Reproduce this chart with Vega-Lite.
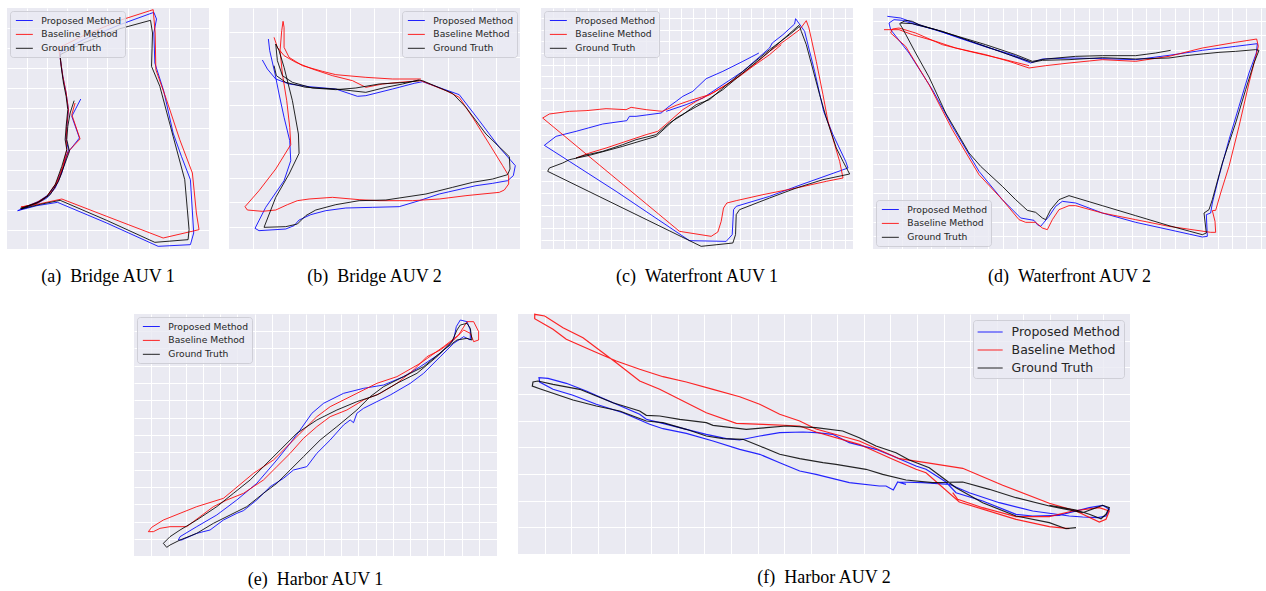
{
"$schema": "https://vega.github.io/schema/vega-lite/v6.json",
"padding": {"left": 7, "top": 7, "right": 0, "bottom": 0},
"config": {
  "view": {"stroke": null, "fill": "#eaeaf2"},
  "axis": {"labels": false, "ticks": false, "domain": false, "grid": true, "gridColor": "#ffffff", "gridWidth": 1, "gridOpacity": 1, "minExtent": 0, "maxExtent": 0},
  "title": {"orient": "bottom", "font": "Liberation Serif", "fontSize": 18, "fontWeight": "normal", "color": "#000000", "offset": 17, "anchor": "middle", "baseline": "top"},
  "legend": {"symbolType": "M-1.5,0H1.5", "symbolFillColor": "transparent", "labelFont": "DejaVu Sans", "labelColor": "#262626", "fillColor": "rgba(234,234,242,0.8)", "strokeColor": "#cfcfd7", "cornerRadius": 3, "symbolStrokeWidth": 1.3, "symbolOpacity": 0.85, "labelFontSize": 9.2, "symbolSize": 128, "symbolOffset": 4.85, "labelOffset": 10.5, "padding": 3, "rowPadding": 1.9, "offset": 3, "title": null},
  "line": {"strokeWidth": 1, "opacity": 0.85, "clip": true}
},
"datasets": {
"a": [
{"s":"Proposed Method","i":1,"x":242,"y":298},{"s":"Proposed Method","i":2,"x":228,"y":325},{"s":"Proposed Method","i":3,"x":215,"y":350},{"s":"Proposed Method","i":4,"x":238,"y":415},{"s":"Proposed Method","i":5,"x":210,"y":450},{"s":"Proposed Method","i":6,"x":200,"y":465},{"s":"Proposed Method","i":7,"x":185,"y":520},{"s":"Proposed Method","i":8,"x":165,"y":565},{"s":"Proposed Method","i":9,"x":140,"y":595},{"s":"Proposed Method","i":10,"x":110,"y":612},{"s":"Proposed Method","i":11,"x":52,"y":633},{"s":"Proposed Method","i":12,"x":110,"y":618},{"s":"Proposed Method","i":13,"x":172,"y":608},{"s":"Proposed Method","i":14,"x":320,"y":670},{"s":"Proposed Method","i":15,"x":475,"y":740},{"s":"Proposed Method","i":16,"x":572,"y":735},{"s":"Proposed Method","i":17,"x":582,"y":700},{"s":"Proposed Method","i":18,"x":572,"y":540},{"s":"Proposed Method","i":19,"x":545,"y":470},{"s":"Proposed Method","i":20,"x":520,"y":400},{"s":"Proposed Method","i":21,"x":492,"y":275},{"s":"Proposed Method","i":22,"x":465,"y":190},{"s":"Proposed Method","i":23,"x":462,"y":100},{"s":"Proposed Method","i":24,"x":470,"y":58},{"s":"Proposed Method","i":25,"x":462,"y":38},{"s":"Proposed Method","i":26,"x":360,"y":75},{"s":"Proposed Method","i":27,"x":250,"y":120},{"s":"Proposed Method","i":28,"x":180,"y":158},{"s":"Proposed Method","i":29,"x":180,"y":175},{"s":"Proposed Method","i":30,"x":188,"y":230},{"s":"Proposed Method","i":31,"x":198,"y":280},{"s":"Proposed Method","i":32,"x":205,"y":330},{"s":"Proposed Method","i":33,"x":200,"y":380},{"s":"Proposed Method","i":34,"x":198,"y":420},{"s":"Proposed Method","i":35,"x":205,"y":450},{"s":"Proposed Method","i":36,"x":190,"y":500},{"s":"Proposed Method","i":37,"x":170,"y":550},{"s":"Proposed Method","i":38,"x":145,"y":585},{"s":"Proposed Method","i":39,"x":115,"y":605},{"s":"Proposed Method","i":40,"x":60,"y":628},
{"s":"Baseline Method","i":1,"x":225,"y":310},{"s":"Baseline Method","i":2,"x":215,"y":345},{"s":"Baseline Method","i":3,"x":240,"y":418},{"s":"Baseline Method","i":4,"x":205,"y":455},{"s":"Baseline Method","i":5,"x":195,"y":480},{"s":"Baseline Method","i":6,"x":180,"y":530},{"s":"Baseline Method","i":7,"x":160,"y":570},{"s":"Baseline Method","i":8,"x":130,"y":600},{"s":"Baseline Method","i":9,"x":100,"y":615},{"s":"Baseline Method","i":10,"x":62,"y":622},{"s":"Baseline Method","i":11,"x":120,"y":612},{"s":"Baseline Method","i":12,"x":185,"y":598},{"s":"Baseline Method","i":13,"x":320,"y":650},{"s":"Baseline Method","i":14,"x":490,"y":715},{"s":"Baseline Method","i":15,"x":598,"y":690},{"s":"Baseline Method","i":16,"x":590,"y":640},{"s":"Baseline Method","i":17,"x":578,"y":520},{"s":"Baseline Method","i":18,"x":540,"y":420},{"s":"Baseline Method","i":19,"x":500,"y":300},{"s":"Baseline Method","i":20,"x":468,"y":210},{"s":"Baseline Method","i":21,"x":466,"y":100},{"s":"Baseline Method","i":22,"x":460,"y":30},{"s":"Baseline Method","i":23,"x":360,"y":62},{"s":"Baseline Method","i":24,"x":250,"y":108},{"s":"Baseline Method","i":25,"x":175,"y":145},{"s":"Baseline Method","i":26,"x":180,"y":175},{"s":"Baseline Method","i":27,"x":188,"y":230},{"s":"Baseline Method","i":28,"x":198,"y":280},{"s":"Baseline Method","i":29,"x":205,"y":330},{"s":"Baseline Method","i":30,"x":200,"y":380},{"s":"Baseline Method","i":31,"x":198,"y":420},{"s":"Baseline Method","i":32,"x":200,"y":450},{"s":"Baseline Method","i":33,"x":188,"y":500},{"s":"Baseline Method","i":34,"x":168,"y":550},{"s":"Baseline Method","i":35,"x":140,"y":590},{"s":"Baseline Method","i":36,"x":110,"y":608},{"s":"Baseline Method","i":37,"x":65,"y":625},
{"s":"Ground Truth","i":1,"x":222,"y":303},{"s":"Ground Truth","i":2,"x":210,"y":340},{"s":"Ground Truth","i":3,"x":203,"y":380},{"s":"Ground Truth","i":4,"x":200,"y":420},{"s":"Ground Truth","i":5,"x":208,"y":455},{"s":"Ground Truth","i":6,"x":195,"y":490},{"s":"Ground Truth","i":7,"x":175,"y":545},{"s":"Ground Truth","i":8,"x":150,"y":585},{"s":"Ground Truth","i":9,"x":120,"y":605},{"s":"Ground Truth","i":10,"x":62,"y":628},{"s":"Ground Truth","i":11,"x":120,"y":614},{"s":"Ground Truth","i":12,"x":180,"y":602},{"s":"Ground Truth","i":13,"x":320,"y":662},{"s":"Ground Truth","i":14,"x":465,"y":728},{"s":"Ground Truth","i":15,"x":565,"y":720},{"s":"Ground Truth","i":16,"x":568,"y":690},{"s":"Ground Truth","i":17,"x":555,"y":540},{"s":"Ground Truth","i":18,"x":520,"y":410},{"s":"Ground Truth","i":19,"x":480,"y":260},{"s":"Ground Truth","i":20,"x":455,"y":200},{"s":"Ground Truth","i":21,"x":458,"y":100},{"s":"Ground Truth","i":22,"x":452,"y":62},{"s":"Ground Truth","i":23,"x":360,"y":87},{"s":"Ground Truth","i":24,"x":250,"y":130},{"s":"Ground Truth","i":25,"x":180,"y":165},{"s":"Ground Truth","i":26,"x":183,"y":200},{"s":"Ground Truth","i":27,"x":190,"y":250},{"s":"Ground Truth","i":28,"x":198,"y":290},{"s":"Ground Truth","i":29,"x":203,"y":330},{"s":"Ground Truth","i":30,"x":198,"y":380},{"s":"Ground Truth","i":31,"x":195,"y":420},{"s":"Ground Truth","i":32,"x":200,"y":450},{"s":"Ground Truth","i":33,"x":185,"y":500},{"s":"Ground Truth","i":34,"x":165,"y":555},{"s":"Ground Truth","i":35,"x":140,"y":590},{"s":"Ground Truth","i":36,"x":110,"y":610},{"s":"Ground Truth","i":37,"x":60,"y":626}
],
"b": [
{"s":"Proposed Method","i":1,"x":110,"y":178},{"s":"Proposed Method","i":2,"x":125,"y":205},{"s":"Proposed Method","i":3,"x":150,"y":235},{"s":"Proposed Method","i":4,"x":190,"y":250},{"s":"Proposed Method","i":5,"x":250,"y":258},{"s":"Proposed Method","i":6,"x":330,"y":265},{"s":"Proposed Method","i":7,"x":395,"y":287},{"s":"Proposed Method","i":8,"x":420,"y":285},{"s":"Proposed Method","i":9,"x":500,"y":265},{"s":"Proposed Method","i":10,"x":565,"y":248},{"s":"Proposed Method","i":11,"x":590,"y":243},{"s":"Proposed Method","i":12,"x":700,"y":282},{"s":"Proposed Method","i":13,"x":760,"y":360},{"s":"Proposed Method","i":14,"x":820,"y":440},{"s":"Proposed Method","i":15,"x":855,"y":480},{"s":"Proposed Method","i":16,"x":868,"y":495},{"s":"Proposed Method","i":17,"x":862,"y":525},{"s":"Proposed Method","i":18,"x":845,"y":540},{"s":"Proposed Method","i":19,"x":800,"y":548},{"s":"Proposed Method","i":20,"x":750,"y":555},{"s":"Proposed Method","i":21,"x":640,"y":580},{"s":"Proposed Method","i":22,"x":580,"y":600},{"s":"Proposed Method","i":23,"x":520,"y":618},{"s":"Proposed Method","i":24,"x":440,"y":620},{"s":"Proposed Method","i":25,"x":360,"y":622},{"s":"Proposed Method","i":26,"x":300,"y":630},{"s":"Proposed Method","i":27,"x":255,"y":642},{"s":"Proposed Method","i":28,"x":220,"y":658},{"s":"Proposed Method","i":29,"x":205,"y":675},{"s":"Proposed Method","i":30,"x":180,"y":685},{"s":"Proposed Method","i":31,"x":100,"y":690},{"s":"Proposed Method","i":32,"x":88,"y":683},{"s":"Proposed Method","i":33,"x":120,"y":620},{"s":"Proposed Method","i":34,"x":175,"y":540},{"s":"Proposed Method","i":35,"x":195,"y":480},{"s":"Proposed Method","i":36,"x":192,"y":420},{"s":"Proposed Method","i":37,"x":175,"y":350},{"s":"Proposed Method","i":38,"x":160,"y":280},{"s":"Proposed Method","i":39,"x":148,"y":220},{"s":"Proposed Method","i":40,"x":132,"y":150},{"s":"Proposed Method","i":41,"x":128,"y":115},
{"s":"Baseline Method","i":1,"x":145,"y":110},{"s":"Baseline Method","i":2,"x":155,"y":140},{"s":"Baseline Method","i":3,"x":175,"y":165},{"s":"Baseline Method","i":4,"x":210,"y":185},{"s":"Baseline Method","i":5,"x":260,"y":205},{"s":"Baseline Method","i":6,"x":320,"y":225},{"s":"Baseline Method","i":7,"x":380,"y":240},{"s":"Baseline Method","i":8,"x":420,"y":260},{"s":"Baseline Method","i":9,"x":470,"y":250},{"s":"Baseline Method","i":10,"x":520,"y":245},{"s":"Baseline Method","i":11,"x":585,"y":240},{"s":"Baseline Method","i":12,"x":660,"y":270},{"s":"Baseline Method","i":13,"x":700,"y":290},{"s":"Baseline Method","i":14,"x":740,"y":350},{"s":"Baseline Method","i":15,"x":790,"y":430},{"s":"Baseline Method","i":16,"x":830,"y":495},{"s":"Baseline Method","i":17,"x":848,"y":525},{"s":"Baseline Method","i":18,"x":848,"y":550},{"s":"Baseline Method","i":19,"x":835,"y":568},{"s":"Baseline Method","i":20,"x":820,"y":575},{"s":"Baseline Method","i":21,"x":720,"y":585},{"s":"Baseline Method","i":22,"x":640,"y":595},{"s":"Baseline Method","i":23,"x":560,"y":600},{"s":"Baseline Method","i":24,"x":460,"y":600},{"s":"Baseline Method","i":25,"x":400,"y":597},{"s":"Baseline Method","i":26,"x":320,"y":590},{"s":"Baseline Method","i":27,"x":250,"y":595},{"s":"Baseline Method","i":28,"x":215,"y":600},{"s":"Baseline Method","i":29,"x":185,"y":612},{"s":"Baseline Method","i":30,"x":150,"y":628},{"s":"Baseline Method","i":31,"x":110,"y":632},{"s":"Baseline Method","i":32,"x":65,"y":628},{"s":"Baseline Method","i":33,"x":58,"y":618},{"s":"Baseline Method","i":34,"x":100,"y":570},{"s":"Baseline Method","i":35,"x":150,"y":505},{"s":"Baseline Method","i":36,"x":195,"y":432},{"s":"Baseline Method","i":37,"x":192,"y":380},{"s":"Baseline Method","i":38,"x":183,"y":300},{"s":"Baseline Method","i":39,"x":170,"y":220},{"s":"Baseline Method","i":40,"x":163,"y":150},{"s":"Baseline Method","i":41,"x":168,"y":90},{"s":"Baseline Method","i":42,"x":172,"y":62},{"s":"Baseline Method","i":43,"x":175,"y":80},{"s":"Baseline Method","i":44,"x":175,"y":140},{"s":"Baseline Method","i":45,"x":190,"y":170},{"s":"Baseline Method","i":46,"x":230,"y":195},{"s":"Baseline Method","i":47,"x":290,"y":212},{"s":"Baseline Method","i":48,"x":330,"y":222},{"s":"Baseline Method","i":49,"x":420,"y":230},{"s":"Baseline Method","i":50,"x":500,"y":235},{"s":"Baseline Method","i":51,"x":585,"y":235},
{"s":"Ground Truth","i":1,"x":145,"y":195},{"s":"Ground Truth","i":2,"x":152,"y":225},{"s":"Ground Truth","i":3,"x":180,"y":245},{"s":"Ground Truth","i":4,"x":240,"y":260},{"s":"Ground Truth","i":5,"x":330,"y":265},{"s":"Ground Truth","i":6,"x":420,"y":275},{"s":"Ground Truth","i":7,"x":480,"y":260},{"s":"Ground Truth","i":8,"x":530,"y":250},{"s":"Ground Truth","i":9,"x":578,"y":238},{"s":"Ground Truth","i":10,"x":590,"y":240},{"s":"Ground Truth","i":11,"x":680,"y":278},{"s":"Ground Truth","i":12,"x":720,"y":320},{"s":"Ground Truth","i":13,"x":780,"y":400},{"s":"Ground Truth","i":14,"x":850,"y":468},{"s":"Ground Truth","i":15,"x":852,"y":505},{"s":"Ground Truth","i":16,"x":845,"y":522},{"s":"Ground Truth","i":17,"x":800,"y":535},{"s":"Ground Truth","i":18,"x":740,"y":545},{"s":"Ground Truth","i":19,"x":680,"y":560},{"s":"Ground Truth","i":20,"x":600,"y":580},{"s":"Ground Truth","i":21,"x":480,"y":598},{"s":"Ground Truth","i":22,"x":400,"y":600},{"s":"Ground Truth","i":23,"x":330,"y":612},{"s":"Ground Truth","i":24,"x":270,"y":628},{"s":"Ground Truth","i":25,"x":240,"y":645},{"s":"Ground Truth","i":26,"x":215,"y":670},{"s":"Ground Truth","i":27,"x":180,"y":678},{"s":"Ground Truth","i":28,"x":115,"y":680},{"s":"Ground Truth","i":29,"x":150,"y":590},{"s":"Ground Truth","i":30,"x":190,"y":520},{"s":"Ground Truth","i":31,"x":220,"y":458},{"s":"Ground Truth","i":32,"x":218,"y":400},{"s":"Ground Truth","i":33,"x":200,"y":300},{"s":"Ground Truth","i":34,"x":175,"y":200},{"s":"Ground Truth","i":35,"x":160,"y":150},{"s":"Ground Truth","i":36,"x":150,"y":130},{"s":"Ground Truth","i":37,"x":155,"y":180},{"s":"Ground Truth","i":38,"x":170,"y":225},{"s":"Ground Truth","i":39,"x":200,"y":245},{"s":"Ground Truth","i":40,"x":260,"y":262},{"s":"Ground Truth","i":41,"x":330,"y":267},{"s":"Ground Truth","i":42,"x":390,"y":262},{"s":"Ground Truth","i":43,"x":460,"y":250},{"s":"Ground Truth","i":44,"x":540,"y":245},{"s":"Ground Truth","i":45,"x":580,"y":240}
],
"c": [
{"s":"Proposed Method","i":1,"x":668,"y":155},{"s":"Proposed Method","i":2,"x":620,"y":180},{"s":"Proposed Method","i":3,"x":560,"y":210},{"s":"Proposed Method","i":4,"x":510,"y":232},{"s":"Proposed Method","i":5,"x":470,"y":270},{"s":"Proposed Method","i":6,"x":440,"y":285},{"s":"Proposed Method","i":7,"x":420,"y":300},{"s":"Proposed Method","i":8,"x":395,"y":318},{"s":"Proposed Method","i":9,"x":375,"y":335},{"s":"Proposed Method","i":10,"x":300,"y":345},{"s":"Proposed Method","i":11,"x":280,"y":345},{"s":"Proposed Method","i":12,"x":272,"y":358},{"s":"Proposed Method","i":13,"x":200,"y":368},{"s":"Proposed Method","i":14,"x":120,"y":390},{"s":"Proposed Method","i":15,"x":60,"y":405},{"s":"Proposed Method","i":16,"x":25,"y":432},{"s":"Proposed Method","i":17,"x":100,"y":480},{"s":"Proposed Method","i":18,"x":240,"y":570},{"s":"Proposed Method","i":19,"x":460,"y":718},{"s":"Proposed Method","i":20,"x":570,"y":720},{"s":"Proposed Method","i":21,"x":588,"y":700},{"s":"Proposed Method","i":22,"x":592,"y":625},{"s":"Proposed Method","i":23,"x":600,"y":615},{"s":"Proposed Method","i":24,"x":700,"y":585},{"s":"Proposed Method","i":25,"x":800,"y":548},{"s":"Proposed Method","i":26,"x":935,"y":500},{"s":"Proposed Method","i":27,"x":928,"y":480},{"s":"Proposed Method","i":28,"x":890,"y":400},{"s":"Proposed Method","i":29,"x":862,"y":330},{"s":"Proposed Method","i":30,"x":835,"y":210},{"s":"Proposed Method","i":31,"x":805,"y":90},{"s":"Proposed Method","i":32,"x":778,"y":52},{"s":"Proposed Method","i":33,"x":775,"y":68},{"s":"Proposed Method","i":34,"x":740,"y":100},{"s":"Proposed Method","i":35,"x":708,"y":125},{"s":"Proposed Method","i":36,"x":700,"y":140},{"s":"Proposed Method","i":37,"x":660,"y":175},{"s":"Proposed Method","i":38,"x":620,"y":210},{"s":"Proposed Method","i":39,"x":560,"y":250},{"s":"Proposed Method","i":40,"x":500,"y":290},{"s":"Proposed Method","i":41,"x":450,"y":310},{"s":"Proposed Method","i":42,"x":390,"y":330},
{"s":"Baseline Method","i":1,"x":120,"y":470},{"s":"Baseline Method","i":2,"x":160,"y":455},{"s":"Baseline Method","i":3,"x":210,"y":440},{"s":"Baseline Method","i":4,"x":270,"y":420},{"s":"Baseline Method","i":5,"x":330,"y":400},{"s":"Baseline Method","i":6,"x":365,"y":390},{"s":"Baseline Method","i":7,"x":400,"y":360},{"s":"Baseline Method","i":8,"x":440,"y":325},{"s":"Baseline Method","i":9,"x":480,"y":300},{"s":"Baseline Method","i":10,"x":530,"y":275},{"s":"Baseline Method","i":11,"x":580,"y":245},{"s":"Baseline Method","i":12,"x":620,"y":215},{"s":"Baseline Method","i":13,"x":660,"y":185},{"s":"Baseline Method","i":14,"x":700,"y":150},{"s":"Baseline Method","i":15,"x":750,"y":115},{"s":"Baseline Method","i":16,"x":790,"y":85},{"s":"Baseline Method","i":17,"x":810,"y":58},{"s":"Baseline Method","i":18,"x":818,"y":80},{"s":"Baseline Method","i":19,"x":840,"y":180},{"s":"Baseline Method","i":20,"x":860,"y":280},{"s":"Baseline Method","i":21,"x":875,"y":360},{"s":"Baseline Method","i":22,"x":895,"y":430},{"s":"Baseline Method","i":23,"x":910,"y":480},{"s":"Baseline Method","i":24,"x":920,"y":530},{"s":"Baseline Method","i":25,"x":870,"y":540},{"s":"Baseline Method","i":26,"x":780,"y":560},{"s":"Baseline Method","i":27,"x":680,"y":580},{"s":"Baseline Method","i":28,"x":600,"y":598},{"s":"Baseline Method","i":29,"x":572,"y":605},{"s":"Baseline Method","i":30,"x":562,"y":620},{"s":"Baseline Method","i":31,"x":555,"y":660},{"s":"Baseline Method","i":32,"x":545,"y":692},{"s":"Baseline Method","i":33,"x":525,"y":705},{"s":"Baseline Method","i":34,"x":430,"y":690},{"s":"Baseline Method","i":35,"x":20,"y":350},{"s":"Baseline Method","i":36,"x":40,"y":338},{"s":"Baseline Method","i":37,"x":100,"y":330},{"s":"Baseline Method","i":38,"x":150,"y":328},{"s":"Baseline Method","i":39,"x":210,"y":322},{"s":"Baseline Method","i":40,"x":270,"y":325},{"s":"Baseline Method","i":41,"x":285,"y":318},{"s":"Baseline Method","i":42,"x":330,"y":325},{"s":"Baseline Method","i":43,"x":378,"y":330},{"s":"Baseline Method","i":44,"x":420,"y":312},{"s":"Baseline Method","i":45,"x":460,"y":298},{"s":"Baseline Method","i":46,"x":520,"y":280},{"s":"Baseline Method","i":47,"x":570,"y":250},{"s":"Baseline Method","i":48,"x":610,"y":225},{"s":"Baseline Method","i":49,"x":650,"y":195},{"s":"Baseline Method","i":50,"x":700,"y":160},{"s":"Baseline Method","i":51,"x":735,"y":130},
{"s":"Ground Truth","i":1,"x":120,"y":470},{"s":"Ground Truth","i":2,"x":145,"y":462},{"s":"Ground Truth","i":3,"x":200,"y":450},{"s":"Ground Truth","i":4,"x":260,"y":430},{"s":"Ground Truth","i":5,"x":300,"y":415},{"s":"Ground Truth","i":6,"x":360,"y":400},{"s":"Ground Truth","i":7,"x":400,"y":365},{"s":"Ground Truth","i":8,"x":440,"y":340},{"s":"Ground Truth","i":9,"x":480,"y":310},{"s":"Ground Truth","i":10,"x":520,"y":295},{"s":"Ground Truth","i":11,"x":560,"y":260},{"s":"Ground Truth","i":12,"x":620,"y":210},{"s":"Ground Truth","i":13,"x":700,"y":145},{"s":"Ground Truth","i":14,"x":760,"y":100},{"s":"Ground Truth","i":15,"x":790,"y":75},{"s":"Ground Truth","i":16,"x":795,"y":90},{"s":"Ground Truth","i":17,"x":810,"y":130},{"s":"Ground Truth","i":18,"x":850,"y":280},{"s":"Ground Truth","i":19,"x":870,"y":350},{"s":"Ground Truth","i":20,"x":900,"y":440},{"s":"Ground Truth","i":21,"x":920,"y":480},{"s":"Ground Truth","i":22,"x":940,"y":518},{"s":"Ground Truth","i":23,"x":860,"y":535},{"s":"Ground Truth","i":24,"x":780,"y":560},{"s":"Ground Truth","i":25,"x":700,"y":590},{"s":"Ground Truth","i":26,"x":610,"y":625},{"s":"Ground Truth","i":27,"x":600,"y":640},{"s":"Ground Truth","i":28,"x":598,"y":700},{"s":"Ground Truth","i":29,"x":590,"y":725},{"s":"Ground Truth","i":30,"x":495,"y":735},{"s":"Ground Truth","i":31,"x":35,"y":510},{"s":"Ground Truth","i":32,"x":40,"y":500},{"s":"Ground Truth","i":33,"x":80,"y":485},{"s":"Ground Truth","i":34,"x":100,"y":475},{"s":"Ground Truth","i":35,"x":160,"y":462},{"s":"Ground Truth","i":36,"x":260,"y":435},{"s":"Ground Truth","i":37,"x":360,"y":405},{"s":"Ground Truth","i":38,"x":420,"y":350},{"s":"Ground Truth","i":39,"x":500,"y":305},{"s":"Ground Truth","i":40,"x":560,"y":265},{"s":"Ground Truth","i":41,"x":620,"y":215},{"s":"Ground Truth","i":42,"x":700,"y":150},{"s":"Ground Truth","i":43,"x":790,"y":70}
],
"d": [
{"s":"Proposed Method","i":1,"x":55,"y":50},{"s":"Proposed Method","i":2,"x":95,"y":55},{"s":"Proposed Method","i":3,"x":130,"y":68},{"s":"Proposed Method","i":4,"x":180,"y":85},{"s":"Proposed Method","i":5,"x":260,"y":110},{"s":"Proposed Method","i":6,"x":350,"y":140},{"s":"Proposed Method","i":7,"x":420,"y":165},{"s":"Proposed Method","i":8,"x":485,"y":190},{"s":"Proposed Method","i":9,"x":520,"y":178},{"s":"Proposed Method","i":10,"x":600,"y":175},{"s":"Proposed Method","i":11,"x":700,"y":177},{"s":"Proposed Method","i":12,"x":800,"y":180},{"s":"Proposed Method","i":13,"x":900,"y":167},{"s":"Proposed Method","i":14,"x":1000,"y":152},{"s":"Proposed Method","i":15,"x":1100,"y":140},{"s":"Proposed Method","i":16,"x":1165,"y":132},{"s":"Proposed Method","i":17,"x":1162,"y":160},{"s":"Proposed Method","i":18,"x":1140,"y":220},{"s":"Proposed Method","i":19,"x":1110,"y":320},{"s":"Proposed Method","i":20,"x":1080,"y":420},{"s":"Proposed Method","i":21,"x":1050,"y":530},{"s":"Proposed Method","i":22,"x":1030,"y":610},{"s":"Proposed Method","i":23,"x":1025,"y":640},{"s":"Proposed Method","i":24,"x":1012,"y":645},{"s":"Proposed Method","i":25,"x":1015,"y":710},{"s":"Proposed Method","i":26,"x":1000,"y":712},{"s":"Proposed Method","i":27,"x":900,"y":690},{"s":"Proposed Method","i":28,"x":800,"y":668},{"s":"Proposed Method","i":29,"x":700,"y":640},{"s":"Proposed Method","i":30,"x":620,"y":610},{"s":"Proposed Method","i":31,"x":580,"y":605},{"s":"Proposed Method","i":32,"x":560,"y":620},{"s":"Proposed Method","i":33,"x":540,"y":650},{"s":"Proposed Method","i":34,"x":515,"y":680},{"s":"Proposed Method","i":35,"x":505,"y":675},{"s":"Proposed Method","i":36,"x":495,"y":662},{"s":"Proposed Method","i":37,"x":455,"y":655},{"s":"Proposed Method","i":38,"x":400,"y":600},{"s":"Proposed Method","i":39,"x":330,"y":515},{"s":"Proposed Method","i":40,"x":250,"y":380},{"s":"Proposed Method","i":41,"x":190,"y":270},{"s":"Proposed Method","i":42,"x":120,"y":160},{"s":"Proposed Method","i":43,"x":65,"y":90},{"s":"Proposed Method","i":44,"x":60,"y":70},{"s":"Proposed Method","i":45,"x":75,"y":60},{"s":"Proposed Method","i":46,"x":100,"y":62},{"s":"Proposed Method","i":47,"x":140,"y":75},{"s":"Proposed Method","i":48,"x":200,"y":90},{"s":"Proposed Method","i":49,"x":270,"y":115},{"s":"Proposed Method","i":50,"x":360,"y":145},{"s":"Proposed Method","i":51,"x":430,"y":165},{"s":"Proposed Method","i":52,"x":480,"y":185},
{"s":"Baseline Method","i":1,"x":45,"y":90},{"s":"Baseline Method","i":2,"x":90,"y":90},{"s":"Baseline Method","i":3,"x":130,"y":105},{"s":"Baseline Method","i":4,"x":200,"y":125},{"s":"Baseline Method","i":5,"x":260,"y":145},{"s":"Baseline Method","i":6,"x":350,"y":165},{"s":"Baseline Method","i":7,"x":420,"y":185},{"s":"Baseline Method","i":8,"x":480,"y":205},{"s":"Baseline Method","i":9,"x":530,"y":198},{"s":"Baseline Method","i":10,"x":600,"y":190},{"s":"Baseline Method","i":11,"x":700,"y":180},{"s":"Baseline Method","i":12,"x":800,"y":185},{"s":"Baseline Method","i":13,"x":900,"y":170},{"s":"Baseline Method","i":14,"x":1000,"y":145},{"s":"Baseline Method","i":15,"x":1100,"y":128},{"s":"Baseline Method","i":16,"x":1163,"y":118},{"s":"Baseline Method","i":17,"x":1168,"y":140},{"s":"Baseline Method","i":18,"x":1140,"y":250},{"s":"Baseline Method","i":19,"x":1110,"y":380},{"s":"Baseline Method","i":20,"x":1080,"y":500},{"s":"Baseline Method","i":21,"x":1055,"y":580},{"s":"Baseline Method","i":22,"x":1040,"y":632},{"s":"Baseline Method","i":23,"x":1030,"y":633},{"s":"Baseline Method","i":24,"x":1038,"y":665},{"s":"Baseline Method","i":25,"x":1040,"y":698},{"s":"Baseline Method","i":26,"x":1025,"y":698},{"s":"Baseline Method","i":27,"x":900,"y":680},{"s":"Baseline Method","i":28,"x":800,"y":660},{"s":"Baseline Method","i":29,"x":700,"y":640},{"s":"Baseline Method","i":30,"x":620,"y":618},{"s":"Baseline Method","i":31,"x":600,"y":618},{"s":"Baseline Method","i":32,"x":570,"y":630},{"s":"Baseline Method","i":33,"x":550,"y":660},{"s":"Baseline Method","i":34,"x":535,"y":690},{"s":"Baseline Method","i":35,"x":520,"y":685},{"s":"Baseline Method","i":36,"x":500,"y":668},{"s":"Baseline Method","i":37,"x":470,"y":668},{"s":"Baseline Method","i":38,"x":450,"y":660},{"s":"Baseline Method","i":39,"x":400,"y":600},{"s":"Baseline Method","i":40,"x":330,"y":525},{"s":"Baseline Method","i":41,"x":250,"y":390},{"s":"Baseline Method","i":42,"x":180,"y":255},{"s":"Baseline Method","i":43,"x":110,"y":140},{"s":"Baseline Method","i":44,"x":65,"y":100},{"s":"Baseline Method","i":45,"x":70,"y":88},{"s":"Baseline Method","i":46,"x":90,"y":85},{"s":"Baseline Method","i":47,"x":140,"y":100},{"s":"Baseline Method","i":48,"x":220,"y":135},{"s":"Baseline Method","i":49,"x":300,"y":155},{"s":"Baseline Method","i":50,"x":400,"y":178},{"s":"Baseline Method","i":51,"x":480,"y":198},
{"s":"Ground Truth","i":1,"x":905,"y":152},{"s":"Ground Truth","i":2,"x":860,"y":160},{"s":"Ground Truth","i":3,"x":800,"y":168},{"s":"Ground Truth","i":4,"x":700,"y":168},{"s":"Ground Truth","i":5,"x":620,"y":170},{"s":"Ground Truth","i":6,"x":530,"y":178},{"s":"Ground Truth","i":7,"x":490,"y":185},{"s":"Ground Truth","i":8,"x":440,"y":165},{"s":"Ground Truth","i":9,"x":350,"y":135},{"s":"Ground Truth","i":10,"x":250,"y":105},{"s":"Ground Truth","i":11,"x":150,"y":75},{"s":"Ground Truth","i":12,"x":130,"y":65},{"s":"Ground Truth","i":13,"x":110,"y":62},{"s":"Ground Truth","i":14,"x":92,"y":72},{"s":"Ground Truth","i":15,"x":100,"y":85},{"s":"Ground Truth","i":16,"x":140,"y":160},{"s":"Ground Truth","i":17,"x":180,"y":232},{"s":"Ground Truth","i":18,"x":230,"y":340},{"s":"Ground Truth","i":19,"x":300,"y":460},{"s":"Ground Truth","i":20,"x":335,"y":500},{"s":"Ground Truth","i":21,"x":400,"y":560},{"s":"Ground Truth","i":22,"x":440,"y":600},{"s":"Ground Truth","i":23,"x":475,"y":632},{"s":"Ground Truth","i":24,"x":500,"y":638},{"s":"Ground Truth","i":25,"x":520,"y":655},{"s":"Ground Truth","i":26,"x":530,"y":660},{"s":"Ground Truth","i":27,"x":545,"y":630},{"s":"Ground Truth","i":28,"x":570,"y":600},{"s":"Ground Truth","i":29,"x":600,"y":588},{"s":"Ground Truth","i":30,"x":700,"y":618},{"s":"Ground Truth","i":31,"x":800,"y":648},{"s":"Ground Truth","i":32,"x":900,"y":678},{"s":"Ground Truth","i":33,"x":1000,"y":705},{"s":"Ground Truth","i":34,"x":1012,"y":700},{"s":"Ground Truth","i":35,"x":1005,"y":640},{"s":"Ground Truth","i":36,"x":1020,"y":630},{"s":"Ground Truth","i":37,"x":1030,"y":600},{"s":"Ground Truth","i":38,"x":1060,"y":490},{"s":"Ground Truth","i":39,"x":1100,"y":370},{"s":"Ground Truth","i":40,"x":1130,"y":270},{"s":"Ground Truth","i":41,"x":1155,"y":190},{"s":"Ground Truth","i":42,"x":1170,"y":152},{"s":"Ground Truth","i":43,"x":1160,"y":150},{"s":"Ground Truth","i":44,"x":1100,"y":155},{"s":"Ground Truth","i":45,"x":1050,"y":158},{"s":"Ground Truth","i":46,"x":950,"y":168},{"s":"Ground Truth","i":47,"x":900,"y":175},{"s":"Ground Truth","i":48,"x":800,"y":178},{"s":"Ground Truth","i":49,"x":700,"y":174},{"s":"Ground Truth","i":50,"x":600,"y":180},{"s":"Ground Truth","i":51,"x":520,"y":182},{"s":"Ground Truth","i":52,"x":490,"y":188},{"s":"Ground Truth","i":53,"x":420,"y":165},{"s":"Ground Truth","i":54,"x":320,"y":130},{"s":"Ground Truth","i":55,"x":220,"y":95},{"s":"Ground Truth","i":56,"x":130,"y":72},{"s":"Ground Truth","i":57,"x":95,"y":70}
],
"e": [
{"s":"Proposed Method","i":1,"x":145,"y":700},{"s":"Proposed Method","i":2,"x":150,"y":690},{"s":"Proposed Method","i":3,"x":200,"y":660},{"s":"Proposed Method","i":4,"x":260,"y":625},{"s":"Proposed Method","i":5,"x":320,"y":580},{"s":"Proposed Method","i":6,"x":380,"y":530},{"s":"Proposed Method","i":7,"x":440,"y":460},{"s":"Proposed Method","i":8,"x":480,"y":410},{"s":"Proposed Method","i":9,"x":510,"y":370},{"s":"Proposed Method","i":10,"x":545,"y":320},{"s":"Proposed Method","i":11,"x":580,"y":290},{"s":"Proposed Method","i":12,"x":640,"y":260},{"s":"Proposed Method","i":13,"x":700,"y":245},{"s":"Proposed Method","i":14,"x":760,"y":235},{"s":"Proposed Method","i":15,"x":820,"y":210},{"s":"Proposed Method","i":16,"x":870,"y":180},{"s":"Proposed Method","i":17,"x":930,"y":140},{"s":"Proposed Method","i":18,"x":970,"y":100},{"s":"Proposed Method","i":19,"x":978,"y":60},{"s":"Proposed Method","i":20,"x":990,"y":40},{"s":"Proposed Method","i":21,"x":1010,"y":45},{"s":"Proposed Method","i":22,"x":1020,"y":70},{"s":"Proposed Method","i":23,"x":1020,"y":100},{"s":"Proposed Method","i":24,"x":1000,"y":90},{"s":"Proposed Method","i":25,"x":970,"y":110},{"s":"Proposed Method","i":26,"x":930,"y":150},{"s":"Proposed Method","i":27,"x":880,"y":200},{"s":"Proposed Method","i":28,"x":840,"y":230},{"s":"Proposed Method","i":29,"x":780,"y":265},{"s":"Proposed Method","i":30,"x":740,"y":285},{"s":"Proposed Method","i":31,"x":700,"y":305},{"s":"Proposed Method","i":32,"x":680,"y":320},{"s":"Proposed Method","i":33,"x":670,"y":348},{"s":"Proposed Method","i":34,"x":660,"y":340},{"s":"Proposed Method","i":35,"x":640,"y":355},{"s":"Proposed Method","i":36,"x":600,"y":400},{"s":"Proposed Method","i":37,"x":560,"y":440},{"s":"Proposed Method","i":38,"x":530,"y":480},{"s":"Proposed Method","i":39,"x":510,"y":485},{"s":"Proposed Method","i":40,"x":490,"y":490},{"s":"Proposed Method","i":41,"x":460,"y":515},{"s":"Proposed Method","i":42,"x":420,"y":540},{"s":"Proposed Method","i":43,"x":380,"y":580},{"s":"Proposed Method","i":44,"x":340,"y":612},{"s":"Proposed Method","i":45,"x":320,"y":620},{"s":"Proposed Method","i":46,"x":280,"y":640},{"s":"Proposed Method","i":47,"x":240,"y":670},{"s":"Proposed Method","i":48,"x":200,"y":680},{"s":"Proposed Method","i":49,"x":155,"y":700},{"s":"Proposed Method","i":50,"x":145,"y":700},
{"s":"Baseline Method","i":1,"x":55,"y":675},{"s":"Baseline Method","i":2,"x":65,"y":662},{"s":"Baseline Method","i":3,"x":100,"y":640},{"s":"Baseline Method","i":4,"x":150,"y":620},{"s":"Baseline Method","i":5,"x":200,"y":600},{"s":"Baseline Method","i":6,"x":280,"y":575},{"s":"Baseline Method","i":7,"x":310,"y":550},{"s":"Baseline Method","i":8,"x":370,"y":500},{"s":"Baseline Method","i":9,"x":430,"y":460},{"s":"Baseline Method","i":10,"x":500,"y":390},{"s":"Baseline Method","i":11,"x":560,"y":330},{"s":"Baseline Method","i":12,"x":600,"y":300},{"s":"Baseline Method","i":13,"x":680,"y":260},{"s":"Baseline Method","i":14,"x":740,"y":230},{"s":"Baseline Method","i":15,"x":800,"y":210},{"s":"Baseline Method","i":16,"x":870,"y":170},{"s":"Baseline Method","i":17,"x":940,"y":120},{"s":"Baseline Method","i":18,"x":985,"y":85},{"s":"Baseline Method","i":19,"x":1010,"y":45},{"s":"Baseline Method","i":20,"x":1030,"y":45},{"s":"Baseline Method","i":21,"x":1045,"y":75},{"s":"Baseline Method","i":22,"x":1045,"y":100},{"s":"Baseline Method","i":23,"x":1030,"y":105},{"s":"Baseline Method","i":24,"x":1020,"y":80},{"s":"Baseline Method","i":25,"x":1000,"y":70},{"s":"Baseline Method","i":26,"x":970,"y":100},{"s":"Baseline Method","i":27,"x":930,"y":130},{"s":"Baseline Method","i":28,"x":890,"y":150},{"s":"Baseline Method","i":29,"x":850,"y":190},{"s":"Baseline Method","i":30,"x":800,"y":230},{"s":"Baseline Method","i":31,"x":750,"y":260},{"s":"Baseline Method","i":32,"x":700,"y":280},{"s":"Baseline Method","i":33,"x":650,"y":310},{"s":"Baseline Method","i":34,"x":600,"y":330},{"s":"Baseline Method","i":35,"x":560,"y":360},{"s":"Baseline Method","i":36,"x":520,"y":395},{"s":"Baseline Method","i":37,"x":480,"y":440},{"s":"Baseline Method","i":38,"x":440,"y":480},{"s":"Baseline Method","i":39,"x":400,"y":520},{"s":"Baseline Method","i":40,"x":340,"y":560},{"s":"Baseline Method","i":41,"x":290,"y":580},{"s":"Baseline Method","i":42,"x":250,"y":600},{"s":"Baseline Method","i":43,"x":210,"y":630},{"s":"Baseline Method","i":44,"x":170,"y":660},{"s":"Baseline Method","i":45,"x":120,"y":660},{"s":"Baseline Method","i":46,"x":90,"y":665},{"s":"Baseline Method","i":47,"x":70,"y":675},{"s":"Baseline Method","i":48,"x":55,"y":675},
{"s":"Ground Truth","i":1,"x":110,"y":722},{"s":"Ground Truth","i":2,"x":100,"y":710},{"s":"Ground Truth","i":3,"x":120,"y":690},{"s":"Ground Truth","i":4,"x":150,"y":670},{"s":"Ground Truth","i":5,"x":200,"y":640},{"s":"Ground Truth","i":6,"x":260,"y":600},{"s":"Ground Truth","i":7,"x":310,"y":560},{"s":"Ground Truth","i":8,"x":360,"y":520},{"s":"Ground Truth","i":9,"x":400,"y":480},{"s":"Ground Truth","i":10,"x":450,"y":430},{"s":"Ground Truth","i":11,"x":500,"y":380},{"s":"Ground Truth","i":12,"x":560,"y":340},{"s":"Ground Truth","i":13,"x":620,"y":310},{"s":"Ground Truth","i":14,"x":680,"y":285},{"s":"Ground Truth","i":15,"x":740,"y":265},{"s":"Ground Truth","i":16,"x":800,"y":230},{"s":"Ground Truth","i":17,"x":860,"y":200},{"s":"Ground Truth","i":18,"x":920,"y":150},{"s":"Ground Truth","i":19,"x":965,"y":105},{"s":"Ground Truth","i":20,"x":980,"y":70},{"s":"Ground Truth","i":21,"x":990,"y":55},{"s":"Ground Truth","i":22,"x":1010,"y":50},{"s":"Ground Truth","i":23,"x":1020,"y":65},{"s":"Ground Truth","i":24,"x":1025,"y":100},{"s":"Ground Truth","i":25,"x":1010,"y":95},{"s":"Ground Truth","i":26,"x":980,"y":100},{"s":"Ground Truth","i":27,"x":940,"y":130},{"s":"Ground Truth","i":28,"x":880,"y":180},{"s":"Ground Truth","i":29,"x":820,"y":210},{"s":"Ground Truth","i":30,"x":760,"y":240},{"s":"Ground Truth","i":31,"x":720,"y":270},{"s":"Ground Truth","i":32,"x":680,"y":310},{"s":"Ground Truth","i":33,"x":620,"y":360},{"s":"Ground Truth","i":34,"x":570,"y":400},{"s":"Ground Truth","i":35,"x":520,"y":450},{"s":"Ground Truth","i":36,"x":480,"y":490},{"s":"Ground Truth","i":37,"x":440,"y":530},{"s":"Ground Truth","i":38,"x":400,"y":560},{"s":"Ground Truth","i":39,"x":350,"y":600},{"s":"Ground Truth","i":40,"x":300,"y":625},{"s":"Ground Truth","i":41,"x":250,"y":650},{"s":"Ground Truth","i":42,"x":200,"y":680},{"s":"Ground Truth","i":43,"x":150,"y":700},{"s":"Ground Truth","i":44,"x":120,"y":715},{"s":"Ground Truth","i":45,"x":110,"y":722}
],
"f": [
{"s":"Proposed Method","i":1,"x":905,"y":483.3},{"s":"Proposed Method","i":2,"x":896.7,"y":481},{"s":"Proposed Method","i":3,"x":892.3,"y":489},{"s":"Proposed Method","i":4,"x":885,"y":485},{"s":"Proposed Method","i":5,"x":878.3,"y":485},{"s":"Proposed Method","i":6,"x":848.3,"y":481.7},{"s":"Proposed Method","i":7,"x":815,"y":473.3},{"s":"Proposed Method","i":8,"x":798.7,"y":470},{"s":"Proposed Method","i":9,"x":778.7,"y":461.7},{"s":"Proposed Method","i":10,"x":758.7,"y":453.3},{"s":"Proposed Method","i":11,"x":738.7,"y":448.3},{"s":"Proposed Method","i":12,"x":712,"y":440},{"s":"Proposed Method","i":13,"x":685.3,"y":432.3},{"s":"Proposed Method","i":14,"x":662,"y":427.7},{"s":"Proposed Method","i":15,"x":648.7,"y":423.3},{"s":"Proposed Method","i":16,"x":622,"y":411.7},{"s":"Proposed Method","i":17,"x":595.3,"y":403.3},{"s":"Proposed Method","i":18,"x":572,"y":394.3},{"s":"Proposed Method","i":19,"x":552,"y":388.3},{"s":"Proposed Method","i":20,"x":538.7,"y":381},{"s":"Proposed Method","i":21,"x":538,"y":376.7},{"s":"Proposed Method","i":22,"x":547,"y":377.3},{"s":"Proposed Method","i":23,"x":565.3,"y":382.3},{"s":"Proposed Method","i":24,"x":585.3,"y":390},{"s":"Proposed Method","i":25,"x":612,"y":401.7},{"s":"Proposed Method","i":26,"x":638.7,"y":413.3},{"s":"Proposed Method","i":27,"x":645.3,"y":418.3},{"s":"Proposed Method","i":28,"x":658.7,"y":421.7},{"s":"Proposed Method","i":29,"x":685.3,"y":428.3},{"s":"Proposed Method","i":30,"x":705.3,"y":433.3},{"s":"Proposed Method","i":31,"x":725.3,"y":437.7},{"s":"Proposed Method","i":32,"x":738.7,"y":439},{"s":"Proposed Method","i":33,"x":758.7,"y":435},{"s":"Proposed Method","i":34,"x":778.7,"y":431.7},{"s":"Proposed Method","i":35,"x":802,"y":431},{"s":"Proposed Method","i":36,"x":815,"y":431.7},{"s":"Proposed Method","i":37,"x":831.7,"y":433.3},{"s":"Proposed Method","i":38,"x":848.3,"y":441.7},{"s":"Proposed Method","i":39,"x":875,"y":448.3},{"s":"Proposed Method","i":40,"x":891.7,"y":455},{"s":"Proposed Method","i":41,"x":915,"y":465},{"s":"Proposed Method","i":42,"x":925,"y":468.3},{"s":"Proposed Method","i":43,"x":945,"y":481},{"s":"Proposed Method","i":44,"x":955,"y":491.7},{"s":"Proposed Method","i":45,"x":981.7,"y":500},{"s":"Proposed Method","i":46,"x":1015,"y":513.3},{"s":"Proposed Method","i":47,"x":1031.7,"y":515},{"s":"Proposed Method","i":48,"x":1058.3,"y":514.3},{"s":"Proposed Method","i":49,"x":1068.3,"y":511.7},{"s":"Proposed Method","i":50,"x":1088.3,"y":506.7},{"s":"Proposed Method","i":51,"x":1101.7,"y":504.3},{"s":"Proposed Method","i":52,"x":1108.3,"y":508.3},{"s":"Proposed Method","i":53,"x":1105,"y":515},{"s":"Proposed Method","i":54,"x":1096.7,"y":516.7},{"s":"Proposed Method","i":55,"x":1081.7,"y":516},{"s":"Proposed Method","i":56,"x":1068.3,"y":515},{"s":"Proposed Method","i":57,"x":1031.7,"y":510},{"s":"Proposed Method","i":58,"x":998.3,"y":501.7},{"s":"Proposed Method","i":59,"x":968.3,"y":491.7},{"s":"Proposed Method","i":60,"x":948.3,"y":483.3},{"s":"Proposed Method","i":61,"x":921.7,"y":481.7},{"s":"Proposed Method","i":62,"x":896.7,"y":481},
{"s":"Baseline Method","i":1,"x":1068.3,"y":527.7},{"s":"Baseline Method","i":2,"x":1048.3,"y":525.7},{"s":"Baseline Method","i":3,"x":1015,"y":518.3},{"s":"Baseline Method","i":4,"x":958.3,"y":501},{"s":"Baseline Method","i":5,"x":925,"y":471.7},{"s":"Baseline Method","i":6,"x":915,"y":468.3},{"s":"Baseline Method","i":7,"x":891.7,"y":458.3},{"s":"Baseline Method","i":8,"x":858.3,"y":443.3},{"s":"Baseline Method","i":9,"x":815,"y":431},{"s":"Baseline Method","i":10,"x":798.7,"y":425},{"s":"Baseline Method","i":11,"x":762,"y":423.3},{"s":"Baseline Method","i":12,"x":735.3,"y":422.3},{"s":"Baseline Method","i":13,"x":705.3,"y":411.7},{"s":"Baseline Method","i":14,"x":682,"y":400},{"s":"Baseline Method","i":15,"x":658.7,"y":388.3},{"s":"Baseline Method","i":16,"x":638.7,"y":380},{"s":"Baseline Method","i":17,"x":615.3,"y":361.7},{"s":"Baseline Method","i":18,"x":595.3,"y":346.7},{"s":"Baseline Method","i":19,"x":582,"y":336.7},{"s":"Baseline Method","i":20,"x":562,"y":326.7},{"s":"Baseline Method","i":21,"x":543.7,"y":315},{"s":"Baseline Method","i":22,"x":533.7,"y":313.3},{"s":"Baseline Method","i":23,"x":533.7,"y":317.7},{"s":"Baseline Method","i":24,"x":552,"y":328.3},{"s":"Baseline Method","i":25,"x":565.3,"y":338.3},{"s":"Baseline Method","i":26,"x":592,"y":350},{"s":"Baseline Method","i":27,"x":615.3,"y":360},{"s":"Baseline Method","i":28,"x":638.7,"y":368.3},{"s":"Baseline Method","i":29,"x":662,"y":375.7},{"s":"Baseline Method","i":30,"x":685.3,"y":381},{"s":"Baseline Method","i":31,"x":712,"y":388.3},{"s":"Baseline Method","i":32,"x":738.7,"y":395.7},{"s":"Baseline Method","i":33,"x":758.7,"y":403.3},{"s":"Baseline Method","i":34,"x":778.7,"y":413.3},{"s":"Baseline Method","i":35,"x":798.7,"y":420},{"s":"Baseline Method","i":36,"x":815,"y":428},{"s":"Baseline Method","i":37,"x":858.3,"y":440},{"s":"Baseline Method","i":38,"x":898.3,"y":457.7},{"s":"Baseline Method","i":39,"x":925,"y":461.7},{"s":"Baseline Method","i":40,"x":961.7,"y":467.3},{"s":"Baseline Method","i":41,"x":1001.7,"y":484.3},{"s":"Baseline Method","i":42,"x":1048.3,"y":502.3},{"s":"Baseline Method","i":43,"x":1075,"y":510},{"s":"Baseline Method","i":44,"x":1098.3,"y":521},{"s":"Baseline Method","i":45,"x":1105,"y":518.3},{"s":"Baseline Method","i":46,"x":1108.3,"y":510},{"s":"Baseline Method","i":47,"x":1098.3,"y":506.7},{"s":"Baseline Method","i":48,"x":1071.7,"y":510},{"s":"Baseline Method","i":49,"x":1048.3,"y":515.7},{"s":"Baseline Method","i":50,"x":1015,"y":515.7},{"s":"Baseline Method","i":51,"x":981.7,"y":506.7},{"s":"Baseline Method","i":52,"x":956.7,"y":498.3},{"s":"Baseline Method","i":53,"x":951.7,"y":491.7},
{"s":"Ground Truth","i":1,"x":1075,"y":526.7},{"s":"Ground Truth","i":2,"x":1065,"y":527.7},{"s":"Ground Truth","i":3,"x":1048.3,"y":521.7},{"s":"Ground Truth","i":4,"x":1015,"y":515},{"s":"Ground Truth","i":5,"x":981.7,"y":501.7},{"s":"Ground Truth","i":6,"x":955,"y":486.7},{"s":"Ground Truth","i":7,"x":941.7,"y":476.7},{"s":"Ground Truth","i":8,"x":928.3,"y":466.7},{"s":"Ground Truth","i":9,"x":908.3,"y":459},{"s":"Ground Truth","i":10,"x":895,"y":451.7},{"s":"Ground Truth","i":11,"x":875,"y":445},{"s":"Ground Truth","i":12,"x":858.3,"y":436.7},{"s":"Ground Truth","i":13,"x":841.7,"y":430},{"s":"Ground Truth","i":14,"x":815,"y":426.7},{"s":"Ground Truth","i":15,"x":785.3,"y":425},{"s":"Ground Truth","i":16,"x":765.3,"y":426.7},{"s":"Ground Truth","i":17,"x":745.3,"y":428.3},{"s":"Ground Truth","i":18,"x":712,"y":424.3},{"s":"Ground Truth","i":19,"x":705.3,"y":421.7},{"s":"Ground Truth","i":20,"x":678.7,"y":418.3},{"s":"Ground Truth","i":21,"x":658.7,"y":415},{"s":"Ground Truth","i":22,"x":645.3,"y":414.3},{"s":"Ground Truth","i":23,"x":638.7,"y":410},{"s":"Ground Truth","i":24,"x":612,"y":401.7},{"s":"Ground Truth","i":25,"x":595.3,"y":395},{"s":"Ground Truth","i":26,"x":578.7,"y":388.3},{"s":"Ground Truth","i":27,"x":552,"y":383.3},{"s":"Ground Truth","i":28,"x":537,"y":380},{"s":"Ground Truth","i":29,"x":532,"y":381},{"s":"Ground Truth","i":30,"x":531.3,"y":385},{"s":"Ground Truth","i":31,"x":538.7,"y":387.7},{"s":"Ground Truth","i":32,"x":552,"y":392.3},{"s":"Ground Truth","i":33,"x":572,"y":399},{"s":"Ground Truth","i":34,"x":595.3,"y":405},{"s":"Ground Truth","i":35,"x":618.7,"y":410},{"s":"Ground Truth","i":36,"x":645.3,"y":420},{"s":"Ground Truth","i":37,"x":662,"y":421.7},{"s":"Ground Truth","i":38,"x":685.3,"y":428.3},{"s":"Ground Truth","i":39,"x":705.3,"y":435},{"s":"Ground Truth","i":40,"x":722,"y":437.7},{"s":"Ground Truth","i":41,"x":742,"y":438.3},{"s":"Ground Truth","i":42,"x":758.7,"y":445},{"s":"Ground Truth","i":43,"x":778.7,"y":453.3},{"s":"Ground Truth","i":44,"x":798.7,"y":457.7},{"s":"Ground Truth","i":45,"x":822,"y":461.7},{"s":"Ground Truth","i":46,"x":835,"y":463.3},{"s":"Ground Truth","i":47,"x":865,"y":468.3},{"s":"Ground Truth","i":48,"x":881.7,"y":473.3},{"s":"Ground Truth","i":49,"x":905,"y":479},{"s":"Ground Truth","i":50,"x":931.7,"y":481.7},{"s":"Ground Truth","i":51,"x":961.7,"y":481},{"s":"Ground Truth","i":52,"x":988.3,"y":488.3},{"s":"Ground Truth","i":53,"x":1015,"y":496.7},{"s":"Ground Truth","i":54,"x":1048.3,"y":505},{"s":"Ground Truth","i":55,"x":1068.3,"y":509},{"s":"Ground Truth","i":56,"x":1081.7,"y":511.7},{"s":"Ground Truth","i":57,"x":1101.7,"y":504.3},{"s":"Ground Truth","i":58,"x":1108.3,"y":506.7},{"s":"Ground Truth","i":59,"x":1105,"y":513.3},{"s":"Ground Truth","i":60,"x":1100,"y":517.7},{"s":"Ground Truth","i":61,"x":1088.3,"y":513.3},{"s":"Ground Truth","i":62,"x":1075,"y":509},{"s":"Ground Truth","i":63,"x":1048.3,"y":504.3}
]
},
"vconcat": [
{
"hconcat": [
{
 "width": 202, "height": 241,
 "title": {"text": "(a)\u2002Bridge AUV 1", "offset": 19},
 "data": {"name": "a"},
 "mark": {"type": "line"},
 "encoding": {
  "x": {"field": "x", "type": "quantitative", "title": null, "scale": {"domain": [20, 628], "nice": false, "zero": false}, "axis": {"values": [80,140,200,262,322,385,447,508,570]}},
  "y": {"field": "y", "type": "quantitative", "title": null, "scale": {"domain": [25, 748], "reverse": true, "nice": false, "zero": false}, "axis": {"values": [85,145,205,265,325,385,450,510,570,630,690]}},
  "color": {"field": "s", "type": "nominal", "title": null, "scale": {"domain": ["Proposed Method","Baseline Method","Ground Truth"], "range": ["#0000ff","#ff0000","#000000"]}, "legend": {"orient": "top-left"}},
  "order": {"field": "i", "type": "quantitative"}
 }
},
{
 "width": 291, "height": 241,
 "title": {"text": "(b)\u2002Bridge AUV 2", "offset": 19},
 "data": {"name": "b"},
 "mark": {"type": "line"},
 "encoding": {
  "x": {"field": "x", "type": "quantitative", "title": null, "scale": {"domain": [10, 882], "nice": false, "zero": false}, "axis": {"values": [82,155,228,300,372,445,518,590,665,738,810]}},
  "y": {"field": "y", "type": "quantitative", "title": null, "scale": {"domain": [22, 745], "reverse": true, "nice": false, "zero": false}, "axis": {"values": [95,168,240,313,387,460,532,605,678]}},
  "color": {"field": "s", "type": "nominal", "title": null, "scale": {"domain": ["Proposed Method","Baseline Method","Ground Truth"], "range": ["#0000ff","#ff0000","#000000"]}, "legend": {"orient": "top-right"}},
  "order": {"field": "i", "type": "quantitative"}
 }
},
{
 "width": 312, "height": 241,
 "title": {"text": "(c)\u2002Waterfront AUV 1", "offset": 19},
 "data": {"name": "c"},
 "mark": {"type": "line"},
 "encoding": {
  "x": {"field": "x", "type": "quantitative", "title": null, "scale": {"domain": [15, 950], "nice": false, "zero": false}, "axis": {"values": [50,85,120,155,190,225,260,295,330,365,400,435,470,505,540,575,610,645,680,715,750,785,820,855,890,925]}},
  "y": {"field": "y", "type": "quantitative", "title": null, "scale": {"domain": [20, 743], "reverse": true, "nice": false, "zero": false}, "axis": {"values": [50,85,120,155,190,225,260,295,330,365,400,435,470,505,540,575,610,645,680,715]}},
  "color": {"field": "s", "type": "nominal", "title": null, "scale": {"domain": ["Proposed Method","Baseline Method","Ground Truth"], "range": ["#0000ff","#ff0000","#000000"]}, "legend": {"orient": "top-left"}},
  "order": {"field": "i", "type": "quantitative"}
 }
},
{
 "width": 393, "height": 241,
 "title": {"text": "(d)\u2002Waterfront AUV 2", "offset": 19},
 "data": {"name": "d"},
 "mark": {"type": "line"},
 "encoding": {
  "x": {"field": "x", "type": "quantitative", "title": null, "scale": {"domain": [12, 1191], "nice": false, "zero": false}, "axis": {"values": [57,100,143,186,229,272,315,358,401,444,487,530,573,616,659,702,745,788,831,874,917,960,1003,1046,1089,1132,1175]}},
  "y": {"field": "y", "type": "quantitative", "title": null, "scale": {"domain": [25, 748], "reverse": true, "nice": false, "zero": false}, "axis": {"values": [64,107,150,193,236,279,322,365,408,451,494,537,580,623,666,709]}},
  "color": {"field": "s", "type": "nominal", "title": null, "scale": {"domain": ["Proposed Method","Baseline Method","Ground Truth"], "range": ["#0000ff","#ff0000","#000000"]}, "legend": {"orient": "bottom-left"}},
  "order": {"field": "i", "type": "quantitative"}
 }
}
],
"spacing": 20,
"resolve": {"scale": {"color": "independent"}}
},
{
"hconcat": [
{
 "width": 106, "height": 242,
 "data": {"values": [{"k": 1}]},
 "mark": {"type": "text", "text": ""},
 "view": {"fill": null, "stroke": null}
},
{
 "width": 363, "height": 242,
 "title": {"text": "(e)\u2002Harbor AUV 1", "offset": 15},
 "data": {"name": "e"},
 "mark": {"type": "line"},
 "encoding": {
  "x": {"field": "x", "type": "quantitative", "title": null, "scale": {"domain": [12, 1100], "nice": false, "zero": false}, "axis": {"values": [64,116,167,219,271,322,374,426,477,529,581,632,684,736,787,839,891,942,994,1046]}},
  "y": {"field": "y", "type": "quantitative", "title": null, "scale": {"domain": [22, 748], "reverse": true, "nice": false, "zero": false}, "axis": {"values": [73,125,177,229,281,333,385,437,489,541,593,645,697]}},
  "color": {"field": "s", "type": "nominal", "title": null, "scale": {"domain": ["Proposed Method","Baseline Method","Ground Truth"], "range": ["#0000ff","#ff0000","#000000"]}, "legend": {"orient": "top-left"}},
  "order": {"field": "i", "type": "quantitative"}
 }
},
{
 "width": 612, "height": 240,
 "title": {"text": "(f)\u2002Harbor AUV 2", "offset": 15},
 "data": {"name": "f"},
 "mark": {"type": "line", "strokeWidth": 1.2},
 "encoding": {
  "x": {"field": "x", "type": "quantitative", "title": null, "scale": {"domain": [517, 1129], "nice": false, "zero": false}, "axis": {"values": [543.7,570.3,596.9,623.5,650.1,676.7,703.3,729.9,756.5,783.1,809.7,836.3,862.9,889.5,916.1,942.7,969.3,995.9,1022.5,1049.1,1075.7,1102.3]}},
  "y": {"field": "y", "type": "quantitative", "title": null, "scale": {"domain": [313, 553], "reverse": true, "nice": false, "zero": false}, "axis": {"values": [339.7,366.3,393,419.7,446.3,473,499.7,526.3]}},
  "color": {"field": "s", "type": "nominal", "title": null, "scale": {"domain": ["Proposed Method","Baseline Method","Ground Truth"], "range": ["#0000ff","#ff0000","#000000"]}, "legend": {"orient": "top-right", "labelFontSize": 12.5, "symbolSize": 279, "symbolOffset": 5.15, "labelOffset": 12.45, "rowPadding": 2, "offset": 6, "padding": 3}},
  "order": {"field": "i", "type": "quantitative"}
 }
}
],
"spacing": 21,
"resolve": {"scale": {"color": "independent"}}
}
],
"spacing": 25
}
